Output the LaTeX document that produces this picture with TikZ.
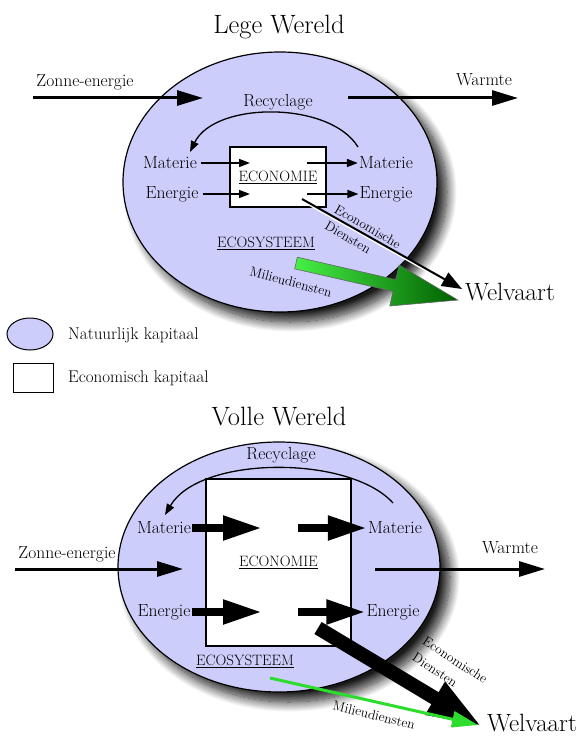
\documentclass[tikz,border=0pt]{standalone}
\usetikzlibrary{arrows.meta,shadows.blur}
\definecolor{natuur}{RGB}{205,205,252}
\definecolor{groen}{RGB}{45,220,45}
\definecolor{groenlicht}{RGB}{70,240,70}
\definecolor{groendonker}{RGB}{0,95,0}
\begin{document}
\begin{tikzpicture}[x = 1pt, y = -1pt,
        txt/.style = {font = \fontsize{17.5}{20}\selectfont, inner sep = 1pt},
        leg/.style = {font = \fontsize{17}{19}\selectfont, inner sep = 0pt, anchor = west},
        titel/.style = {font = \fontsize{26.5}{30}\selectfont, inner sep = 0pt},
        groot/.style = {font = \fontsize{25}{28}\selectfont, inner sep = 1pt},
        schuin/.style = {font = \fontsize{13.5}{19}\selectfont, inner sep = 0pt, align = left},
        hoofd/.style = {font = \fontsize{15}{17}\selectfont, inner sep = 0pt},
        kapitaal/.style = {draw, fill = natuur, line width = 1.2pt},
        schaduw/.style = {blur shadow = {shadow xshift = 10pt, shadow yshift = -10pt, shadow blur radius = 10pt, shadow blur steps = 16, shadow opacity = 90}},
        econ/.style = {draw, fill = white, line width = 1.2pt, font = \fontsize{15}{17}\selectfont, inner sep = 0pt},
        dun/.style = {line width = 1.6pt, -{Triangle[length = 11pt, width = 8pt, fill = black]}},
        zon/.style = {line width = 3pt, -{Triangle[length = 26pt, width = 15pt, fill = black]}},
        dik/.style = {line width = 8pt, -{Triangle[length = 39pt, width = 23pt, fill = black]}}
    ]
    \useasboundingbox (0, 0) rectangle (580, 738);

    % Lege Wereld
    \node [titel] (T) at (279, 27) {Lege Wereld};
    \path [kapitaal, schaduw] (280, 182) ellipse [x radius = 157, y radius = 130];
    \node [econ, minimum width = 96pt, minimum height = 60pt] (E) at (278, 177) {\underline{ECONOMIE}};
    \node [hoofd] (S) at (266, 243) {\underline{ECOSYSTEEM}};

    \node [txt] (Z) at (85, 82) {Zonne-energie};
    \node [txt] (Wa) at (484, 80) {Warmte};
    \node [txt] (R) at (278, 102) {Recyclage};
    \node [txt] (Ma) at (170, 163) {Materie};
    \node [txt] (Ea) at (172, 194) {Energie};
    \node [txt] (Mb) at (386, 163) {Materie};
    \node [txt] (Eb) at (386, 194) {Energie};
    \node [groot] (W) at (510, 292) {Welvaart};

    \coordinate (z1) at (33, 98);
    \coordinate (z2) at (203, 98);
    \coordinate (w1) at (348, 98);
    \coordinate (w2) at (518, 98);
    \coordinate (r1) at (358, 147);
    \coordinate (r2) at (190, 152);
    \coordinate (ma) at (250, 163);
    \coordinate (ea) at (250, 194);
    \coordinate (mb) at (307, 163);
    \coordinate (eb) at (307, 194);
    \coordinate (d1) at (302, 199);
    \coordinate (d2) at (462, 289);

    \draw [zon] (z1) -- (z2);
    \draw [zon] (w1) -- (w2);
    \draw [line width = 1.3pt, -{Triangle[length = 11pt, width = 8pt, fill = black]}] (r1) .. controls (330, 101) and (215, 101) .. (r2);
    \draw [dun] ([xshift = 3pt]Ma.east) -- (ma);
    \draw [dun] ([xshift = 3pt]Ea.east) -- (ea);
    \draw [dun] (mb) -- (Mb.west);
    \draw [dun] (eb) -- (Eb.west);
    \draw [white, line width = 2pt, shorten > = 16pt] ([shift = {(1.5, 2.5)}]d1) -- ([shift = {(1.5, 2.5)}]d2); % halo
    \draw [line width = 2pt, -{Triangle[length = 20pt, width = 15pt, fill = black]}] (d1) -- (d2);
    \begin{scope}[shift = {(296, 263)}, rotate = -12.9]
        \draw [draw = black!60, line width = 0.6pt, left color = groenlicht, right color = groendonker]
            (0, -6) -- (101, -6) -- (101, -21) -- (166, 0) -- (101, 21) -- (101, 6) -- (0, 6) -- cycle;
    \end{scope}
    \node [schuin, rotate = -30] (Ec) at (363, 235) {Economische\\Diensten};
    \node [schuin, rotate = -15] (Mi) at (291, 282) {Milieudiensten};

    % legenda
    \path [kapitaal, line width = 1pt] (30, 334) ellipse [x radius = 23, y radius = 16];
    \draw [line width = 1pt] (13, 363) rectangle (53, 392);
    \node [leg] (Nk) at (68, 335) {Natuurlijk kapitaal};
    \node [leg] (Ek) at (68, 378) {Economisch kapitaal};

    % Volle Wereld
    \node [titel] (T1) at (279, 417) {Volle Wereld};
    \path [kapitaal, schaduw] (279, 567) ellipse [x radius = 161, y radius = 125];
    \node [econ, minimum width = 145pt, minimum height = 167pt] (E1) at (278.5, 562.5) {\underline{ECONOMIE}};
    \node [hoofd] (S1) at (245, 661) {\underline{ECOSYSTEEM}};

    \node [txt] (Z1) at (67, 554) {Zonne-energie};
    \node [txt] (Wa1) at (510, 548) {Warmte};
    \node [txt] (R1) at (281, 455) {Recyclage};
    \node [txt] (Ma1) at (164, 528) {Materie};
    \node [txt] (Ea1) at (164, 612) {Energie};
    \node [txt] (Mb1) at (395, 528) {Materie};
    \node [txt] (Eb1) at (393, 612) {Energie};
    \node [groot] (W1) at (532, 723) {Welvaart};

    \coordinate (z3) at (15, 569);
    \coordinate (z4) at (183, 569);
    \coordinate (w3) at (375, 569);
    \coordinate (w4) at (545, 569);
    \coordinate (r3) at (393, 503);
    \coordinate (r4) at (165, 515);
    \coordinate (ma1) at (262, 528);
    \coordinate (ea1) at (262, 612);
    \coordinate (mb1) at (298, 528);
    \coordinate (eb1) at (298, 612);
    \coordinate (d3) at (318, 628);
    \coordinate (d4) at (483, 727);
    \coordinate (g1) at (270, 678);
    \coordinate (g2) at (478, 725);

    \draw [zon] (z3) -- (z4);
    \draw [zon] (w3) -- (w4);
    \draw [line width = 1.3pt, -{Triangle[length = 11pt, width = 8pt, fill = black]}] (r3) .. controls (350, 455) and (200, 455) .. (r4);
    \draw [dik] (Ma1.east) -- (ma1);
    \draw [dik] (Ea1.east) -- (ea1);
    \draw [dik] (mb1) -- (Mb1.west);
    \draw [dik] (eb1) -- (Eb1.west);
    \draw [line width = 14pt, -{Triangle[length = 56pt, width = 34pt, fill = black]}] (d3) -- (d4);
    \draw [groen, line width = 3pt, -{Triangle[length = 26pt, width = 16pt, fill = groen]}] (g1) -- (g2);
    \node [schuin, rotate = -33] (Ec1) at (450, 668) {Economische\\Diensten};
    \node [schuin, rotate = -14] (Mi1) at (374, 715) {Milieudiensten};
\end{tikzpicture}
\end{document}
